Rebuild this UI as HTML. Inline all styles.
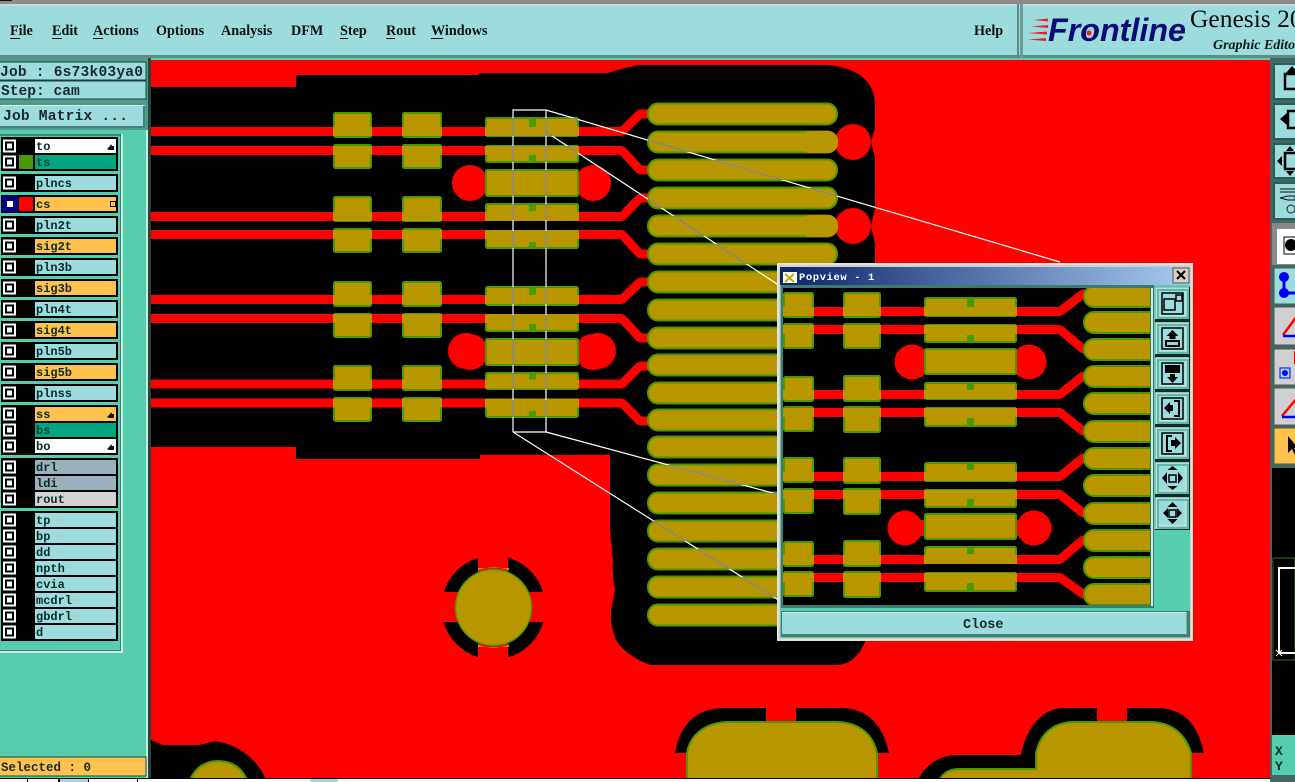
<!DOCTYPE html>
<html><head><meta charset="utf-8"><style>
html,body{margin:0;padding:0;background:#fff;overflow:hidden}
svg{display:block;position:absolute;left:0;top:0}
.m{font:bold 14.200px "Liberation Serif",serif;fill:#111}
.l{font:bold 12px "Liberation Mono",monospace;fill:#0c2a2a}
.j{font:bold 14.600px "Liberation Mono",monospace;fill:#1a2a2a}
.p{fill:#b89600;stroke:#4b9900;stroke-width:2}
.t{fill:none;stroke:#f00;stroke-width:9;stroke-linejoin:bevel}
</style></head><body>
<svg width="1295" height="782" viewBox="0 0 1295 782">
<defs>
<clipPath id="cv"><rect x="151" y="60" width="1119" height="718"/></clipPath>
<clipPath id="pc"><rect x="783" y="288" width="367" height="317"/></clipPath>
<clipPath id="pads">
<rect x="486" y="118" width="92" height="18"/><rect x="486" y="146" width="92" height="16"/><rect x="486" y="170" width="92" height="26"/><rect x="486" y="204" width="92" height="16"/><rect x="486" y="231" width="92" height="17"/>
<rect x="486" y="287" width="92" height="17"/><rect x="486" y="315" width="92" height="16"/><rect x="486" y="339" width="92" height="26"/><rect x="486" y="373" width="92" height="16"/><rect x="486" y="400" width="92" height="17"/>
<rect x="648" y="104" width="189" height="20"/><rect x="648" y="132" width="189" height="20"/><rect x="648" y="160" width="189" height="20"/><rect x="648" y="188" width="189" height="20"/><rect x="648" y="216" width="189" height="20"/><rect x="648" y="244" width="189" height="20"/>
<rect x="648" y="437" width="120" height="20"/><rect x="648" y="465" width="120" height="20"/><rect x="648" y="493" width="130" height="20"/><rect x="648" y="521" width="130" height="20"/><rect x="648" y="549" width="130" height="20"/><rect x="648" y="577" width="130" height="20"/>
</clipPath>
<rect id="cp" x="648" y="-0.500" width="189" height="21" rx="10" class="p"/>
<g id="pairs">
<rect x="334" y="113" width="37" height="24" rx="1.500" class="p"/><rect x="334" y="145" width="37" height="23" rx="1.500" class="p"/>
<rect x="403" y="113" width="38" height="24" rx="1.500" class="p"/><rect x="403" y="145" width="38" height="23" rx="1.500" class="p"/>
</g>
<g id="st" fill="#b89600"><rect x="333" y="0" width="39" height="9"/><rect x="402" y="0" width="40" height="9"/><rect x="485" y="0" width="94" height="9"/></g>
<g id="st2" fill="#b89600"><rect x="783" y="0" width="31" height="9"/><rect x="843" y="0" width="38" height="9"/><rect x="924" y="0" width="93" height="9"/></g>
<g id="pack">
<circle cx="470" cy="183" r="18" fill="#f00"/><circle cx="593" cy="183" r="18" fill="#f00"/>
<rect x="486" y="118" width="92" height="18" rx="1.500" class="p"/><rect x="529" y="119" width="7" height="8" fill="#4b9900"/>
<rect x="486" y="146" width="92" height="16" rx="1.500" class="p"/><rect x="529" y="155" width="7" height="8" fill="#4b9900"/>
<rect x="486" y="170" width="92" height="26" rx="1.500" class="p"/>
<rect x="486" y="204" width="92" height="16" rx="1.500" class="p"/><rect x="529" y="204" width="7" height="7" fill="#4b9900"/>
<rect x="486" y="231" width="92" height="17" rx="1.500" class="p"/><rect x="529" y="242" width="7" height="7" fill="#4b9900"/>
</g>
<g id="cb"><rect x="3" y="-6.500" width="13" height="13" fill="#fff"/><rect x="5" y="-4.500" width="9" height="9" fill="#000"/><rect x="7" y="-2.500" width="5" height="5" fill="#fff"/></g>
<path id="hand" d="M0 0l3-3 1-2 1 2h2v4h-5z" fill="#111"/>
<g id="sb"><rect x="0" y="0" width="33" height="31" fill="#62b8a8"/><path d="M0 31V0H33" fill="none" stroke="#c8f0e8" stroke-width="1.500"/><rect x="3" y="3" width="27" height="25" fill="#9cdcdc"/><path d="M3 28H30V3" fill="none" stroke="#e0f6f6"/></g>
<rect id="pp" x="0" y="0" width="29" height="24" rx="1.500" class="p"/>
<rect id="pc2" x="1084" y="0" width="90" height="21" rx="10" class="p"/>
<linearGradient id="tb" x1="0" x2="1"><stop offset="0" stop-color="#0a246a"/><stop offset="1" stop-color="#a6caf0"/></linearGradient>
</defs>

<!-- background chrome -->
<rect width="1295" height="782" fill="#55cdae"/>
<rect width="1295" height="4" fill="#8c8c8c"/><rect y="4" width="1295" height="2" fill="#c8d8d8"/>
<rect width="12" height="1" fill="#111"/>
<rect y="6" width="1295" height="49" fill="#9cdcdc"/>
<rect y="55" width="1295" height="3" fill="#5e8a85"/>
<rect x="1017" y="4" width="2" height="52" fill="#5e8a85"/><rect x="1020" y="4" width="3" height="54" fill="#6d9c98"/>
<rect y="58" width="150" height="72" fill="#4f9c8c"/>

<text class="m" x="10" y="35">File</text><rect x="10" y="38" width="10" height="1" fill="#111"/>
<text class="m" x="52" y="35">Edit</text><rect x="52" y="38" width="10" height="1" fill="#111"/>
<text class="m" x="93" y="35">Actions</text><rect x="93" y="38" width="10" height="1" fill="#111"/>
<text class="m" x="156" y="35">Options</text>
<text class="m" x="221" y="35">Analysis</text>
<text class="m" x="291" y="35">DFM</text>
<text class="m" x="340" y="35">Step</text><rect x="340" y="38" width="8" height="1" fill="#111"/>
<text class="m" x="386" y="35">Rout</text><rect x="386" y="38" width="9" height="1" fill="#111"/>
<text class="m" x="431" y="35">Windows</text><rect x="431" y="38" width="12" height="1" fill="#111"/>
<text class="m" x="974" y="35">Help</text>

<!-- logo -->
<g fill="#e8222a"><path d="M1034 20l14-1.500v3z"/><path d="M1031 26.500l17-1.500v3z"/><path d="M1028 33l19-1.500v3z"/><path d="M1028 39.500l18-1.500v3z"/></g>
<text x="1048" y="41" textLength="138" lengthAdjust="spacingAndGlyphs" style="font:italic bold 32px 'Liberation Sans',sans-serif;fill:#0a0a78">Frontline</text>
<circle cx="1089" cy="33" r="2.500" fill="#e8222a"/>
<text x="1190" y="27" style="font:25.500px 'Liberation Serif',serif;fill:#0a0a0a">Genesis 20</text>
<text x="1213" y="49" style="font:italic bold 14px 'Liberation Serif',serif;fill:#0a1a1a">Graphic Editor</text>

<!-- job boxes -->
<rect x="-1" y="62" width="147" height="18" fill="#9cdcdc" stroke="#17423c" stroke-width="1"/>
<rect x="-1" y="81" width="147" height="18" fill="#9cdcdc" stroke="#17423c" stroke-width="1"/>
<text class="j" x="0" y="76" textLength="143">Job : 6s73k03ya0</text>
<text class="j" x="1" y="95">Step: cam</text>
<rect x="0" y="105" width="145" height="22" fill="#9cdcdc"/><path d="M144 106v21H0" fill="none" stroke="#4d7f7a" stroke-width="2"/><path d="M0 105.500H144" stroke="#d4eeee"/>
<text class="j" x="3" y="120" textLength="125">Job Matrix ...</text>

<!-- layer panel -->
<rect x="0" y="132" width="150" height="646" fill="#55cdae"/>
<rect x="146" y="130" width="2" height="648" fill="#c8ecdf"/><rect x="148" y="58" width="3" height="720" fill="#27433d"/>
<rect x="-1" y="135" width="122" height="516" fill="#55cdae" stroke="#17423c"/>
<rect x="121" y="134" width="2" height="518" fill="#c8ecdf"/><rect x="0" y="651" width="123" height="2" fill="#c8ecdf"/>
<g fill="#000">
<rect x="1" y="137" width="117" height="34"/><rect x="1" y="174" width="117" height="18"/><rect x="1" y="195" width="117" height="18"/><rect x="1" y="216" width="117" height="18"/><rect x="1" y="237" width="117" height="18"/><rect x="1" y="258" width="117" height="18"/><rect x="1" y="279" width="117" height="18"/><rect x="1" y="300" width="117" height="18"/><rect x="1" y="321" width="117" height="18"/><rect x="1" y="342" width="117" height="18"/><rect x="1" y="363" width="117" height="18"/><rect x="1" y="384" width="117" height="18"/>
<rect x="1" y="405" width="117" height="50"/><rect x="1" y="458" width="117" height="50"/><rect x="1" y="511" width="117" height="130"/>
</g>
<g fill="#9cdcdc">
<rect x="35" y="139" width="81" height="14" fill="#fff"/><rect x="35" y="155" width="81" height="14" fill="#00a67f"/>
<rect x="35" y="176" width="81" height="14"/><rect x="35" y="197" width="81" height="14" fill="#ffc34d"/><rect x="35" y="218" width="81" height="14"/><rect x="35" y="239" width="81" height="14" fill="#ffc34d"/><rect x="35" y="260" width="81" height="14"/><rect x="35" y="281" width="81" height="14" fill="#ffc34d"/><rect x="35" y="302" width="81" height="14"/><rect x="35" y="323" width="81" height="14" fill="#ffc34d"/><rect x="35" y="344" width="81" height="14"/><rect x="35" y="365" width="81" height="14" fill="#ffc34d"/><rect x="35" y="386" width="81" height="14"/>
<rect x="35" y="407" width="81" height="14" fill="#ffc34d"/><rect x="35" y="423" width="81" height="14" fill="#00a67f"/><rect x="35" y="439" width="81" height="14" fill="#fff"/>
<rect x="35" y="460" width="81" height="14" fill="#9ab0bb"/><rect x="35" y="476" width="81" height="14" fill="#9ab0bb"/><rect x="35" y="492" width="81" height="14" fill="#d3d3d3"/>
<rect x="35" y="513" width="81" height="14"/><rect x="35" y="529" width="81" height="14"/><rect x="35" y="545" width="81" height="14"/><rect x="35" y="561" width="81" height="14"/><rect x="35" y="577" width="81" height="14"/><rect x="35" y="593" width="81" height="14"/><rect x="35" y="609" width="81" height="14"/><rect x="35" y="625" width="81" height="14"/>
</g>
<rect x="19" y="155" width="14" height="14" fill="#4b9900"/>
<rect x="19" y="197" width="14" height="14" fill="#f00"/>
<rect x="2" y="196" width="16" height="16" fill="#000080"/>
<use href="#cb" y="146"/><use href="#cb" y="162"/><use href="#cb" y="183"/><rect x="4" y="198" width="12" height="12" fill="#000080"/><rect x="7" y="201" width="6" height="6" fill="#fff"/>
<use href="#cb" y="225"/><use href="#cb" y="246"/><use href="#cb" y="267"/><use href="#cb" y="288"/><use href="#cb" y="309"/><use href="#cb" y="330"/><use href="#cb" y="351"/><use href="#cb" y="372"/><use href="#cb" y="393"/><use href="#cb" y="414"/><use href="#cb" y="430"/><use href="#cb" y="446"/><use href="#cb" y="467"/><use href="#cb" y="483"/><use href="#cb" y="499"/><use href="#cb" y="520"/><use href="#cb" y="536"/><use href="#cb" y="552"/><use href="#cb" y="568"/><use href="#cb" y="584"/><use href="#cb" y="600"/><use href="#cb" y="616"/><use href="#cb" y="632"/>
<text class="l" x="36" y="150">to</text><text class="l" x="36" y="166" style="fill:#04443a">ts</text><text class="l" x="36" y="187">plncs</text><text class="l" x="36" y="208">cs</text><text class="l" x="36" y="229">pln2t</text><text class="l" x="36" y="250">sig2t</text><text class="l" x="36" y="271">pln3b</text><text class="l" x="36" y="292">sig3b</text><text class="l" x="36" y="313">pln4t</text><text class="l" x="36" y="334">sig4t</text><text class="l" x="36" y="355">pln5b</text><text class="l" x="36" y="376">sig5b</text><text class="l" x="36" y="397">plnss</text><text class="l" x="36" y="418">ss</text><text class="l" x="36" y="434" style="fill:#04443a">bs</text><text class="l" x="36" y="450">bo</text><text class="l" x="36" y="471">drl</text><text class="l" x="36" y="487">ldi</text><text class="l" x="36" y="503">rout</text><text class="l" x="36" y="524">tp</text><text class="l" x="36" y="540">bp</text><text class="l" x="36" y="556">dd</text><text class="l" x="36" y="572">npth</text><text class="l" x="36" y="588">cvia</text><text class="l" x="36" y="604">mcdrl</text><text class="l" x="36" y="620">gbdrl</text><text class="l" x="36" y="636">d</text>
<use href="#hand" x="107" y="149"/><use href="#hand" x="107" y="417"/><use href="#hand" x="107" y="449"/>
<rect x="110.500" y="201.500" width="5" height="5" fill="none" stroke="#111"/>
<rect x="-1" y="757" width="147" height="19" fill="#ffc34d" stroke="#17423c"/>
<text class="j" x="1" y="771" style="font-size:12.500px">Selected : 0</text>
<rect y="778" width="1295" height="4" fill="#000"/>
<rect x="0" y="779" width="27" height="3" fill="#fff"/><rect x="28" y="779" width="30" height="3" fill="#fff"/><rect x="60" y="779" width="28" height="3" fill="#9cdcdc"/><rect x="89" y="779" width="48" height="3" fill="#fffff0"/><rect x="138" y="779" width="1157" height="3" fill="#fff"/><rect x="310" y="779" width="28" height="3" fill="#9cdcdc"/>

<!-- canvas -->
<rect x="151" y="60" width="1119" height="718" fill="#f00"/>
<g clip-path="url(#cv)">
<path fill="#000" d="M151 87H296V75H478L480 73H608Q622 68 640 65H828Q875 70 875 106V128L871 142L875 158V208L871 226L875 244V300L872 320V600Q872 625 866 640Q856 665 836 665H650Q625 655 616 640Q610 625 611 610L615 590Q612 575 613 560L610 530V455H480V459H296V447H151Z"/>
<!-- traces -->
<polyline class="t" points="151,131.500 622,131.500 640,114 648,114"/>
<polyline class="t" points="151,150.500 622,150.500 640,170 648,170"/>
<polyline class="t" points="151,216.500 622,216.500 640,198 648,198"/>
<polyline class="t" points="151,234.500 622,234.500 640,254 648,254"/>
<polyline class="t" points="151,299.500 622,299.500 640,282 648,282"/>
<polyline class="t" points="151,318.500 622,318.500 640,338 648,338"/>
<polyline class="t" points="151,384 622,384 640,366 648,366"/>
<polyline class="t" points="151,403 622,403 640,421 648,421"/>
<circle cx="853" cy="142" r="18" fill="#f00"/><circle cx="853" cy="226" r="18" fill="#f00"/>
<use href="#pairs"/><use href="#pairs" y="84"/><use href="#pairs" y="169"/><use href="#pairs" y="253"/>
<use href="#pack"/>
<g transform="translate(0,169)"><circle cx="466" cy="182" r="18" fill="#f00"/><circle cx="598" cy="182" r="18" fill="#f00"/><use href="#pack"/></g>
<use href="#st" y="127"/><use href="#st" y="146"/><use href="#st" y="212"/><use href="#st" y="230"/><use href="#st" y="295"/><use href="#st" y="314"/><use href="#st" y="379.500"/><use href="#st" y="398.500"/>
<use href="#cp" y="104"/><use href="#cp" y="132"/><use href="#cp" y="160"/><use href="#cp" y="188"/><use href="#cp" y="216"/><use href="#cp" y="244"/><use href="#cp" y="272"/><use href="#cp" y="300"/><use href="#cp" y="328"/><use href="#cp" y="355"/><use href="#cp" y="383"/><use href="#cp" y="410"/><use href="#cp" y="437"/><use href="#cp" y="465"/><use href="#cp" y="493"/><use href="#cp" y="521"/><use href="#cp" y="549"/><use href="#cp" y="577"/><use href="#cp" y="605"/>
<rect x="800" y="131" width="38" height="22" rx="10" fill="#b89600"/><rect x="800" y="215" width="38" height="22" rx="10" fill="#b89600"/>
<!-- thermal -->
<circle cx="493.500" cy="607.500" r="52" fill="#000"/>
<rect x="478" y="550" width="30" height="115" fill="#f00"/><rect x="436" y="592" width="115" height="30" fill="#f00"/>
<circle cx="493.500" cy="607.500" r="38" fill="#b89600" stroke="#4b9900" stroke-width="1.500"/>
<path d="M478 570.500A38.500 38.500 0 0 1 509 570.500V568H478ZM478 644.500A38.500 38.500 0 0 0 509 644.500V647H478Z" fill="#b89600"/>
<!-- bottom pads -->
<path fill="#000" d="M675 753C680 725 695 708 725 708H840C868 708 883 725 889 753H675Z"/>
<rect x="766" y="706" width="30" height="20" fill="#f00"/>
<path d="M687 780V753C690 735 705 722 730 722H835C860 722 873 735 877 753V780Z" class="p" stroke-width="1.500"/>
<path fill="#000" d="M918 780C925 765 940 755 957 755H1021C1026 730 1040 708 1065 708H1155C1185 708 1198 725 1204 753H1191V780Z"/>
<rect x="1097" y="706" width="30" height="20" fill="#f00"/>
<rect x="1191" y="753" width="15" height="27" fill="#f00"/>
<path d="M939 780C944 772 950 769 960 769H1036V753C1040 735 1052 722 1075 722H1150C1172 722 1186 735 1191 753V780Z" class="p" stroke-width="1.500"/>
<path fill="#000" d="M151 740L163 745H200L215 741C240 745 258 760 266 780H151Z"/>
<path d="M190 780C195 768 205 761 218 761C232 761 242 768 247 780Z" class="p" stroke-width="1.500"/>
<!-- magnifier lines -->
<g stroke="#fff" stroke-width="1.200" fill="none">
<path d="M513 432V110H546V432H513"/>
<path d="M546 110L1060 262"/><path d="M546 132L780 286"/><path d="M546 432L780 495"/><path d="M513 432L780 601"/>
</g>
<g stroke="#808080" stroke-width="1.400" fill="none" clip-path="url(#pads)">
<path d="M513 432V110M546 110V432"/>
<path d="M546 110L1060 262"/><path d="M546 132L780 286"/><path d="M546 432L780 495"/><path d="M513 432L780 601"/>
</g>
</g>

<!-- right toolbar -->
<rect x="1270" y="58" width="25" height="724" fill="#3f6a63"/>
<g fill="#9cdcdc" stroke="#2c5b55" stroke-width="2">
<rect x="1274" y="64" width="25" height="35"/><rect x="1274" y="104" width="25" height="35"/><rect x="1274" y="144" width="25" height="34"/><rect x="1274" y="183" width="25" height="36"/>
</g>
<g fill="none" stroke="#000" stroke-width="2.500">
<path d="M1295 74H1285V89H1295"/><path d="M1295 111H1288V128H1295"/><rect x="1285" y="153" width="14" height="16"/>
</g>
<path d="M1292 66l6 7h-12zM1280 119l7-6v12zM1277 161l5-5v10zM1290 146l-4 5h8zM1290 176l-4-5h8z" fill="#000"/>
<path d="M1280 189H1295M1280 192H1295M1280 198l8-2h7v4h-7z" stroke="#111" fill="#9cdcdc"/><circle cx="1291" cy="209" r="4" fill="none" stroke="#222"/>
<rect x="1272" y="223" width="25" height="42" fill="#888"/><rect x="1277" y="229" width="20" height="35" fill="#fff"/><rect x="1284" y="237" width="14" height="17" fill="#fff" stroke="#000"/><circle cx="1291" cy="245" r="6" fill="#000"/>
<rect x="1274" y="268" width="25" height="36" fill="#9cdcdc" stroke="#555"/>
<rect x="1274" y="307" width="25" height="38" fill="#d0d0d0" stroke="#555"/><rect x="1274" y="349" width="25" height="36" fill="#d0d0d0" stroke="#555"/><rect x="1274" y="388" width="25" height="37" fill="#d0d0d0" stroke="#555"/>
<rect x="1274" y="428" width="25" height="36" fill="#ffc34d" stroke="#555"/>
<path d="M1284 277v16" stroke="#0000ff" stroke-width="3"/><circle cx="1284" cy="277" r="5" fill="#0000ff"/><circle cx="1284" cy="293" r="5" fill="#0000ff"/><path d="M1284 293h14" stroke="#0000ff" stroke-width="3"/>
<path d="M1283 335L1297 316" stroke="#f00" stroke-width="2.500"/><path d="M1283 336h14" stroke="#0000ff" stroke-width="2.500"/>
<rect x="1280" y="368" width="10" height="10" fill="#9cdcdc" stroke="#00f"/><circle cx="1285" cy="373" r="3" fill="#00f"/><rect x="1294" y="351" width="2" height="13" fill="#f00"/>
<path d="M1282 416L1297 398" stroke="#f00" stroke-width="2.500"/><path d="M1282 417h14" stroke="#0000ff" stroke-width="2.500"/>
<path d="M1288 436v17l4-4 3 6 2-1-3-6h4Z" fill="#000"/>
<rect x="1272" y="468" width="23" height="267" fill="#000"/>
<rect x="1273" y="558" width="22" height="102" fill="none" stroke="#3a6a20"/>
<path d="M1279 653V568H1295M1279 653H1295" fill="none" stroke="#fff" stroke-width="2"/><path d="M1276 650l6 6m0-6l-6 6" stroke="#fff"/>
<rect x="1272" y="735" width="23" height="40" fill="#55cdae"/>
<text x="1275" y="755" style="font:bold 13px 'Liberation Mono',monospace;fill:#0c2a2a">X</text>
<text x="1275" y="770" style="font:bold 13px 'Liberation Mono',monospace;fill:#0c2a2a">Y</text>

<!-- popup -->
<rect x="777" y="263" width="416" height="378" fill="#d4d0c8"/>
<rect x="778" y="264" width="414" height="376" fill="none" stroke="#f4f4f0"/>
<rect x="780" y="267" width="410" height="371" fill="#55cdae"/>
<rect x="780" y="267" width="410" height="18" fill="url(#tb)"/>
<rect x="783" y="269" width="14" height="14" fill="#fff"/><rect x="783" y="269" width="14" height="3" fill="#0a246a"/><path d="M785 274l9 8m0-8l-9 8" stroke="#b8b000" stroke-width="2"/>
<text x="799" y="280" style="font:bold 10.500px 'Liberation Mono',monospace;fill:#fff;letter-spacing:.6px">Popview - 1</text>
<rect x="1173" y="268" width="16" height="15" fill="#d4d0c8" stroke="#555"/><path d="M1177 271l8 8m0-8l-8 8" stroke="#000" stroke-width="2"/>
<rect x="781" y="285" width="373" height="323" fill="#3f7a70"/>
<rect x="783" y="288" width="367" height="317" fill="#000"/><rect x="1151" y="288" width="2" height="318" fill="#c8ecdf"/>
<g clip-path="url(#pc)">
<polyline class="t" points="783,311.500 1060,311.500 1083,294 1090,294"/>
<polyline class="t" points="783,329.500 1060,329.500 1083,349 1090,349"/>
<polyline class="t" points="783,394.500 1060,394.500 1083,376 1090,376"/>
<polyline class="t" points="783,412.500 1060,412.500 1083,431 1090,431"/>
<polyline class="t" points="783,476.500 1060,476.500 1083,458 1090,458"/>
<polyline class="t" points="783,494.500 1060,494.500 1083,513 1090,513"/>
<polyline class="t" points="783,559.500 1060,559.500 1083,540 1090,540"/>
<polyline class="t" points="783,577.500 1060,577.500 1083,594 1090,594"/>
<circle cx="912" cy="362" r="17.500" fill="#f00"/><circle cx="1029" cy="362" r="17.500" fill="#f00"/>
<circle cx="905" cy="528" r="17.500" fill="#f00"/><circle cx="1034" cy="528" r="17.500" fill="#f00"/>
<rect x="915" y="520" width="10" height="16" fill="#f00"/><rect x="1016" y="520" width="10" height="16" fill="#f00"/>
<use href="#pp" x="784" y="293"/><use href="#pp" x="784" y="324"/><use href="#pp" x="784" y="377"/><use href="#pp" x="784" y="407"/><use href="#pp" x="784" y="458"/><use href="#pp" x="784" y="489"/><use href="#pp" x="784" y="542"/><use href="#pp" x="784" y="572"/>
<g class="p"><rect x="844" y="293" width="36" height="24" rx="1.500"/><rect x="844" y="324" width="36" height="24" rx="1.500"/><rect x="844" y="376" width="36" height="25" rx="1.500"/><rect x="844" y="407" width="36" height="25" rx="1.500"/><rect x="844" y="458" width="36" height="25" rx="1.500"/><rect x="844" y="489" width="36" height="25" rx="1.500"/><rect x="844" y="541" width="36" height="25" rx="1.500"/><rect x="844" y="572" width="36" height="25" rx="1.500"/></g>
<g class="p"><rect x="925" y="298" width="91" height="18" rx="1.500"/><rect x="925" y="325" width="91" height="17" rx="1.500"/><rect x="925" y="349" width="91" height="25" rx="1.500"/><rect x="925" y="383" width="91" height="16" rx="1.500"/><rect x="925" y="408" width="91" height="18" rx="1.500"/><rect x="925" y="463" width="91" height="18" rx="1.500"/><rect x="925" y="490" width="91" height="17" rx="1.500"/><rect x="925" y="514" width="91" height="25" rx="1.500"/><rect x="925" y="547" width="91" height="16" rx="1.500"/><rect x="925" y="573" width="91" height="18" rx="1.500"/></g>
<use href="#st2" y="307"/><use href="#st2" y="325"/><use href="#st2" y="390"/><use href="#st2" y="408"/><use href="#st2" y="472"/><use href="#st2" y="490"/><use href="#st2" y="555"/><use href="#st2" y="573"/>
<g fill="#4b9900"><rect x="967" y="299" width="7" height="8"/><rect x="967" y="335" width="7" height="8"/><rect x="967" y="383" width="7" height="7"/><rect x="967" y="418" width="7" height="8"/><rect x="967" y="463" width="7" height="7"/><rect x="967" y="499" width="7" height="8"/><rect x="967" y="547" width="7" height="7"/><rect x="967" y="583" width="7" height="8"/></g>
<use href="#pc2" y="286"/><use href="#pc2" y="312"/><use href="#pc2" y="339"/><use href="#pc2" y="366"/><use href="#pc2" y="393"/><use href="#pc2" y="421"/><use href="#pc2" y="448"/><use href="#pc2" y="475"/><use href="#pc2" y="503"/><use href="#pc2" y="530"/><use href="#pc2" y="557"/><use href="#pc2" y="584"/>
</g>
<!-- popup side buttons -->
<rect x="1155" y="287" width="35" height="318" fill="#55cdae"/>
<rect x="1155" y="287" width="35" height="243" fill="#102a26"/>
<use href="#sb" x="1156" y="288"/><use href="#sb" x="1156" y="323"/><use href="#sb" x="1156" y="358"/><use href="#sb" x="1156" y="393"/><use href="#sb" x="1156" y="428"/><use href="#sb" x="1156" y="463"/><use href="#sb" x="1156" y="498"/>
<g fill="none" stroke="#000" stroke-width="1.500">
<rect x="1162" y="293" width="21" height="21"/><rect x="1164" y="299" width="11" height="11"/><rect x="1176" y="295" width="6" height="6"/>
<rect x="1162" y="328" width="21" height="21"/><rect x="1162" y="363" width="21" height="21"/><rect x="1162" y="398" width="21" height="21"/><rect x="1162" y="433" width="21" height="21"/>
<rect x="1169" y="475" width="7" height="7"/><rect x="1169" y="510" width="7" height="7"/>
</g>
<g fill="#000">
<path d="M1172.500 330l6 6h-3v3h-6v-3h-3zM1165 340h15v7h-15v-7zM1167 342v3h11v-3z" fill-rule="evenodd"/>
<path d="M1165 365h15v8h-15zM1170 374h5v3h3l-5.500 6-5.500-6h3z"/>
<path d="M1164 408l6-6v3h3v6h-3v3zM1174 400h6v17h-6v-2h4v-13h-4z"/>
<path d="M1166 435h6v2h-4v13h4v2h-6zM1171 440h4v-3l6 6-6 6v-3h-4z"/>
<path d="M1162 478l5-6v12zM1183 478l-5-6v12zM1172.500 466l-5 4h10zM1172.500 490l-5-4h10z"/>
<path d="M1163 513l5-5v10zM1182 513l-5-5v10zM1172.500 502l-5 5h10zM1172.500 524l-5-5h10z"/>
</g>
<!-- close button -->
<rect x="781" y="611" width="409" height="26" fill="#3f7a70"/>
<rect x="782" y="612" width="406" height="23" fill="#9cdcdc"/><path d="M782 612.500H1188" stroke="#d4eeee"/><path d="M1187.500 612v23H782" fill="none" stroke="#4d7f7a" stroke-width="2"/>
<text x="963" y="628" style="font:bold 13.500px 'Liberation Mono',monospace;fill:#1a2a2a">Close</text>
</svg>
</body></html>
